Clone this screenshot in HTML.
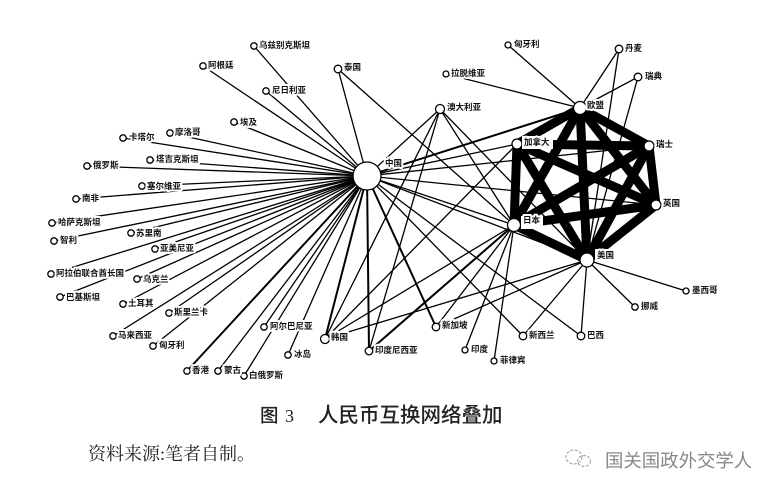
<!DOCTYPE html>
<html lang="zh">
<head>
<meta charset="utf-8">
<style>
html,body{margin:0;padding:0;background:#fff;width:779px;height:494px;overflow:hidden}
svg{display:block;filter:blur(.35px)}
.e line{stroke:#000;stroke-width:1.3}
.b line{stroke:#000;stroke-width:2}
.t line{stroke:#000;stroke-width:9}
.n circle{fill:#fff;stroke:#000;stroke-width:1.3}
.l text{font-family:"Liberation Sans","Noto Sans CJK SC",sans-serif;font-size:8.5px;font-weight:700;fill:#111;stroke:#fff;stroke-width:4px;paint-order:stroke;stroke-linejoin:round}
</style>
</head>
<body>
<svg width="779" height="494" viewBox="0 0 779 494" xmlns="http://www.w3.org/2000/svg">
<rect width="779" height="494" fill="#fff"/>
<g class="e">
<line x1="367" y1="176" x2="254" y2="46"/>
<line x1="367" y1="176" x2="203" y2="66"/>
<line x1="367" y1="176" x2="266" y2="91"/>
<line x1="367" y1="176" x2="338" y2="69"/>
<line x1="367" y1="176" x2="234" y2="122"/>
<line x1="367" y1="176" x2="170" y2="133"/>
<line x1="367" y1="176" x2="123" y2="138"/>
<line x1="367" y1="176" x2="150" y2="160"/>
<line x1="367" y1="176" x2="87" y2="166"/>
<line x1="367" y1="176" x2="142" y2="186"/>
<line x1="367" y1="176" x2="76" y2="199"/>
<line x1="367" y1="176" x2="52" y2="223"/>
<line x1="367" y1="176" x2="54" y2="241"/>
<line x1="367" y1="176" x2="131" y2="233"/>
<line x1="367" y1="176" x2="155" y2="249"/>
<line x1="367" y1="176" x2="51" y2="274"/>
<line x1="367" y1="176" x2="137" y2="279"/>
<line x1="367" y1="176" x2="60" y2="297"/>
<line x1="367" y1="176" x2="123" y2="304"/>
<line x1="367" y1="176" x2="169" y2="313"/>
<line x1="367" y1="176" x2="113" y2="336"/>
<line x1="367" y1="176" x2="153" y2="346"/>
<line x1="367" y1="176" x2="264" y2="327"/>
<line x1="367" y1="176" x2="288" y2="355"/>
<line x1="367" y1="176" x2="218" y2="371"/>
<line x1="367" y1="176" x2="244" y2="376"/>
<line x1="367" y1="176" x2="517" y2="144"/>
<line x1="367" y1="176" x2="649" y2="146"/>
<line x1="367" y1="176" x2="656" y2="205"/>
<line x1="367" y1="176" x2="514" y2="225"/>
<line x1="367" y1="176" x2="587" y2="260"/>
<line x1="367" y1="176" x2="523" y2="336"/>
<line x1="367" y1="176" x2="581" y2="336"/>
<line x1="338" y1="69" x2="514" y2="225"/>
<line x1="440" y1="109" x2="367" y2="176"/>
<line x1="440" y1="109" x2="325" y2="339"/>
<line x1="440" y1="109" x2="369" y2="351"/>
<line x1="440" y1="109" x2="514" y2="225"/>
<line x1="440" y1="109" x2="587" y2="260"/>
<line x1="517" y1="144" x2="325" y2="339"/>
<line x1="514" y1="225" x2="325" y2="339"/>
<line x1="514" y1="225" x2="436" y2="327"/>
<line x1="514" y1="225" x2="465" y2="350"/>
<line x1="514" y1="225" x2="494" y2="361"/>
<line x1="587" y1="260" x2="325" y2="339"/>
<line x1="587" y1="260" x2="436" y2="327"/>
<line x1="587" y1="260" x2="523" y2="336"/>
<line x1="587" y1="260" x2="581" y2="336"/>
<line x1="587" y1="260" x2="635" y2="307"/>
<line x1="587" y1="260" x2="686" y2="291"/>
<line x1="508" y1="45" x2="580" y2="108"/>
<line x1="446" y1="74" x2="580" y2="108"/>
<line x1="619" y1="49" x2="580" y2="108"/>
<line x1="619" y1="49" x2="587" y2="260"/>
<line x1="638" y1="77" x2="580" y2="108"/>
<line x1="638" y1="77" x2="587" y2="260"/>
</g>
<g class="b">
<line x1="367" y1="176" x2="187" y2="371"/>
<line x1="367" y1="176" x2="325" y2="339"/>
<line x1="367" y1="176" x2="369" y2="351"/>
<line x1="367" y1="176" x2="436" y2="327"/>
<line x1="367" y1="176" x2="580" y2="108"/>
<line x1="514" y1="225" x2="369" y2="351"/>
</g>
<g class="t">
<line x1="580" y1="108" x2="517" y2="144"/>
<line x1="580" y1="108" x2="649" y2="146"/>
<line x1="580" y1="108" x2="656" y2="205"/>
<line x1="580" y1="108" x2="587" y2="260"/>
<line x1="580" y1="108" x2="514" y2="225"/>
<line x1="517" y1="144" x2="649" y2="146"/>
<line x1="517" y1="144" x2="656" y2="205"/>
<line x1="517" y1="144" x2="587" y2="260"/>
<line x1="517" y1="144" x2="514" y2="225"/>
<line x1="649" y1="146" x2="656" y2="205"/>
<line x1="649" y1="146" x2="587" y2="260"/>
<line x1="649" y1="146" x2="514" y2="225"/>
<line x1="656" y1="205" x2="587" y2="260"/>
<line x1="656" y1="205" x2="514" y2="225"/>
<line x1="514" y1="225" x2="587" y2="260"/>
</g>
<g class="n">
<circle cx="367" cy="176" r="14"/>
<circle cx="254" cy="46" r="3.2"/><circle cx="203" cy="66" r="3.2"/><circle cx="266" cy="91" r="3.2"/>
<circle cx="338" cy="69" r="3.8"/><circle cx="234" cy="122" r="3.2"/><circle cx="170" cy="133" r="3.2"/>
<circle cx="123" cy="138" r="3.2"/><circle cx="150" cy="160" r="3.2"/><circle cx="87" cy="166" r="3.2"/>
<circle cx="142" cy="186" r="3.2"/><circle cx="76" cy="199" r="3.2"/><circle cx="52" cy="223" r="3.2"/>
<circle cx="54" cy="241" r="3.2"/><circle cx="131" cy="233" r="3.2"/><circle cx="155" cy="249" r="3.2"/>
<circle cx="51" cy="274" r="3.2"/><circle cx="137" cy="279" r="3.2"/><circle cx="60" cy="297" r="3.2"/>
<circle cx="123" cy="304" r="3.2"/><circle cx="169" cy="313" r="3.2"/><circle cx="113" cy="336" r="3.2"/>
<circle cx="153" cy="346" r="3.2"/><circle cx="264" cy="327" r="3.2"/><circle cx="288" cy="355" r="3.2"/>
<circle cx="187" cy="371" r="3.2"/><circle cx="218" cy="371" r="3.2"/><circle cx="244" cy="376" r="3.2"/>
<circle cx="325" cy="339" r="4.5"/><circle cx="369" cy="351" r="3.8"/><circle cx="436" cy="327" r="3.8"/>
<circle cx="465" cy="350" r="3"/><circle cx="494" cy="361" r="3"/><circle cx="523" cy="336" r="3.8"/>
<circle cx="581" cy="336" r="3.8"/><circle cx="635" cy="307" r="3.2"/><circle cx="686" cy="291" r="3"/>
<circle cx="508" cy="45" r="3"/><circle cx="446" cy="74" r="3"/><circle cx="619" cy="49" r="3.8"/>
<circle cx="638" cy="77" r="3.8"/><circle cx="440" cy="109" r="4.5"/>
<circle cx="580" cy="108" r="6.5"/><circle cx="517" cy="144" r="5"/><circle cx="649" cy="146" r="5"/>
<circle cx="656" cy="205" r="5"/><circle cx="514" cy="225" r="6.5"/><circle cx="587" cy="260" r="7"/>
</g>
<rect x="522" y="136" width="31" height="13" fill="#fff"/>
<rect x="521" y="216" width="22" height="13" fill="#fff"/>
<rect x="595" y="249" width="22" height="13" fill="#fff"/>
<g class="l">
<text x="259" y="48">乌兹别克斯坦</text>
<text x="208" y="68">阿根廷</text>
<text x="272" y="93">尼日利亚</text>
<text x="344" y="70">泰国</text>
<text x="240" y="125">埃及</text>
<text x="175" y="135">摩洛哥</text>
<text x="129" y="140">卡塔尔</text>
<text x="156" y="162">塔吉克斯坦</text>
<text x="93" y="168">俄罗斯</text>
<text x="147" y="189">塞尔维亚</text>
<text x="82" y="201">南非</text>
<text x="58" y="225">哈萨克斯坦</text>
<text x="60" y="243">智利</text>
<text x="136" y="236">苏里南</text>
<text x="160" y="251">亚美尼亚</text>
<text x="56" y="276">阿拉伯联合酋长国</text>
<text x="143" y="282">乌克兰</text>
<text x="66" y="300">巴基斯坦</text>
<text x="128" y="306">土耳其</text>
<text x="174" y="315">斯里兰卡</text>
<text x="118" y="338">马来西亚</text>
<text x="159" y="348">匈牙利</text>
<text x="270" y="329">阿尔巴尼亚</text>
<text x="294" y="357">冰岛</text>
<text x="192" y="373">香港</text>
<text x="224" y="373">蒙古</text>
<text x="249" y="378">白俄罗斯</text>
<text x="331" y="340">韩国</text>
<text x="375" y="353">印度尼西亚</text>
<text x="442" y="328">新加坡</text>
<text x="471" y="352">印度</text>
<text x="500" y="363">菲律宾</text>
<text x="529" y="338">新西兰</text>
<text x="587" y="338">巴西</text>
<text x="641" y="309">挪威</text>
<text x="692" y="293">墨西哥</text>
<text x="597" y="258">美国</text>
<text x="523" y="223">日本</text>
<text x="663" y="206">英国</text>
<text x="656" y="147">瑞士</text>
<text x="524" y="145">加拿大</text>
<text x="587" y="108">欧盟</text>
<text x="625" y="51">丹麦</text>
<text x="645" y="79">瑞典</text>
<text x="514" y="47">匈牙利</text>
<text x="451" y="76">拉脱维亚</text>
<text x="447" y="110">澳大利亚</text>
<text x="385" y="166">中国</text>
</g>
<text x="260" y="422" font-family="'Liberation Sans','Noto Sans CJK SC',sans-serif" font-size="18.5" font-weight="500" fill="#222">图</text>
<text x="285" y="422" font-family="'Liberation Serif',serif" font-size="18" fill="#222">3</text>
<text x="318" y="422" font-family="'Liberation Sans','Noto Sans CJK SC',sans-serif" font-size="20.5" font-weight="500" fill="#222">人民币互换网络叠加</text>
<text x="88" y="460" font-family="'Liberation Serif','Noto Serif CJK SC',serif" font-size="18" fill="#222">资料来源:笔者自制。</text>
<g fill="none" stroke="#aaa" stroke-width="1.2" stroke-dasharray="3 1.5">
<ellipse cx="574" cy="457" rx="8" ry="7"/>
<ellipse cx="584" cy="461" rx="6.5" ry="5.5"/>
</g>
<text x="605" y="467" font-family="'Liberation Sans','Noto Sans CJK SC',sans-serif" font-size="18.4" font-weight="400" fill="#888">国关国政外交学人</text>
</svg>
</body>
</html>
